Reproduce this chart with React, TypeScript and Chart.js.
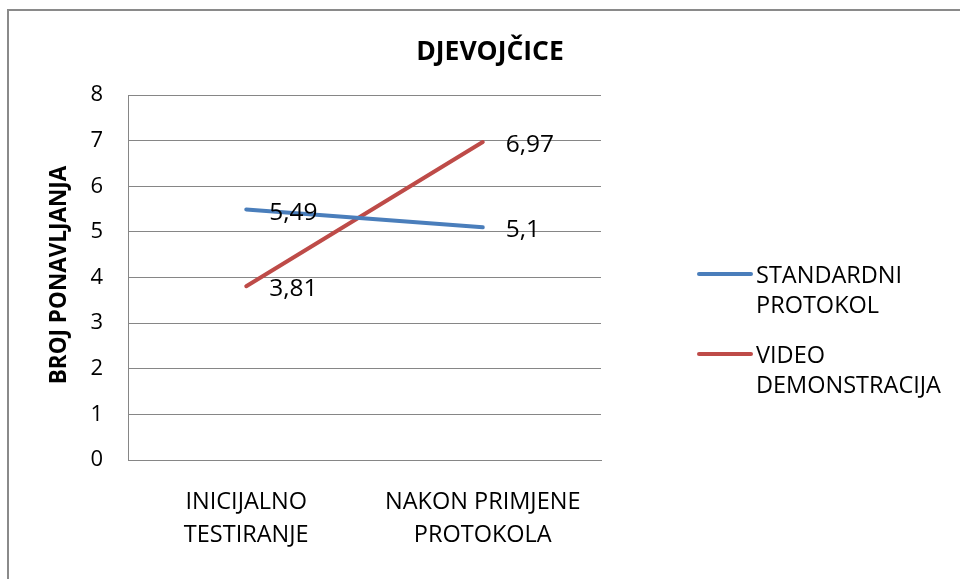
import React, { useEffect, useRef } from "react";
import { Chart, registerables } from "chart.js";

Chart.register(...registerables);

const categories: string[][] = [
  ["INICIJALNO", "TESTIRANJE"],
  ["NAKON PRIMJENE", "PROTOKOLA"],
];
const standardniProtokol: number[] = [5.49, 5.1];
const videoDemonstracija: number[] = [3.81, 6.97];
const seriesNames: string[][] = [
  ["STANDARDNI", "PROTOKOL"],
  ["VIDEO", "DEMONSTRACIJA"],
];
const chartTitle = "DJEVOJČICE";
const yAxisTitle = "BROJ PONAVLJANJA";

const BLUE = "#4a7ebb";
const RED = "#be4b48";
const GRID = "#868686";
const FONT = "'Open Sans', sans-serif";

const overlay = {
  id: "overlay",
  afterDraw(chart: any) {
    const ctx = chart.ctx as CanvasRenderingContext2D;
    ctx.save();
    // frame
    ctx.fillStyle = "#8a8a8a";
    ctx.fillRect(7, 9, 2, 570);
    ctx.fillRect(7, 9, 953, 2);
    // title
    ctx.fillStyle = "#000";
    ctx.font = `bold 26.5px ${FONT}`;
    ctx.textAlign = "center";
    ctx.textBaseline = "middle";
    ctx.fillText(chartTitle, 490, 52);
    // y title
    ctx.save();
    ctx.translate(60, 275);
    ctx.rotate(-Math.PI / 2);
    ctx.font = `bold 22.5px ${FONT}`;
    ctx.fillText(yAxisTitle, 0, 0);
    ctx.restore();
    // data labels
    ctx.font = `24.5px ${FONT}`;
    ctx.textAlign = "left";
    ctx.textBaseline = "middle";
    chart.data.datasets.forEach((ds: any, i: number) => {
      const meta = chart.getDatasetMeta(i);
      meta.data.forEach((pt: any, j: number) => {
        const v = ds.data[j] as number;
        ctx.fillText(String(v).replace(".", ","), pt.x + 23, pt.y + 3);
      });
    });
    // legend
    const colors = [BLUE, RED];
    const ys = [274, 354];
    ctx.font = `23.5px ${FONT}`;
    seriesNames.forEach((lines, i) => {
      ctx.strokeStyle = colors[i];
      ctx.lineWidth = 4;
      ctx.lineCap = "round";
      ctx.beginPath();
      ctx.moveTo(699, ys[i]);
      ctx.lineTo(751, ys[i]);
      ctx.stroke();
      lines.forEach((t, k) => {
        ctx.fillText(t, 756, ys[i] + 2 + k * 30.5);
      });
    });
    ctx.restore();
  },
};

export default function App() {
  const ref = useRef<HTMLCanvasElement | null>(null);
  useEffect(() => {
    if (!ref.current) return;
    const chart = new Chart(ref.current, {
      type: "line",
      data: {
        labels: categories as any,
        datasets: [
          {
            label: seriesNames[0].join(" "),
            data: standardniProtokol,
            borderColor: BLUE,
            backgroundColor: BLUE,
            borderWidth: 4,
            pointRadius: 0,
            borderCapStyle: "round",
            tension: 0,
          },
          {
            label: seriesNames[1].join(" "),
            data: videoDemonstracija,
            borderColor: RED,
            backgroundColor: RED,
            borderWidth: 4,
            pointRadius: 0,
            borderCapStyle: "round",
            tension: 0,
          },
        ],
      },
      options: {
        responsive: false,
        animation: false,
        layout: { padding: { left: 0, right: 359, top: 95, bottom: 0 } },
        plugins: {
          legend: { display: false },
          title: { display: false },
          tooltip: { enabled: false },
        },
        scales: {
          x: {
            offset: true,
            grid: { display: false, drawTicks: false },
            border: { display: true, color: GRID, width: 1 },
            ticks: {
              color: "#000",
              font: { family: FONT, size: 23.5, lineHeight: 1.4 },
              padding: 26,
              maxRotation: 0,
              autoSkip: false,
            },
            afterFit: (s: any) => {
              s.height = 119;
            },
          },
          y: {
            min: 0,
            max: 8,
            ticks: {
              stepSize: 1,
              color: "#000",
              font: { family: FONT, size: 22 },
              padding: 25,
            },
            grid: { color: GRID, lineWidth: 1, drawTicks: false },
            border: { display: true, color: GRID, width: 1 },
            afterFit: (s: any) => {
              s.width = 128;
            },
          },
        },
      },
      plugins: [overlay],
    });
    return () => chart.destroy();
  }, []);
  return (
    <div style={{ position: "absolute", left: 0, top: 0, width: 960, height: 579, background: "#fff" }}>
      <canvas ref={ref} width={960} height={579} style={{ display: "block" }} />
    </div>
  );
}
